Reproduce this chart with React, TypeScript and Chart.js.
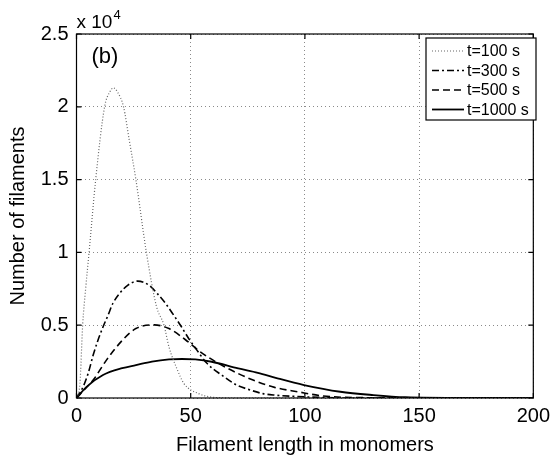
import React, { useEffect, useRef } from "react";
import { Chart, registerables } from "chart.js";

Chart.register(...registerables);

const FONT = "'Liberation Sans', Arial, Helvetica, sans-serif";

const xTicks = [0, 50, 100, 150, 200];
const yTicks = [0, 0.5, 1, 1.5, 2, 2.5];
const seriesLabels = ["t=100 s", "t=300 s", "t=500 s", "t=1000 s"];

const t100X = [0, 1.5, 2.7, 4, 5.5, 8.4, 12.3, 14.5, 16.2, 18, 20.6, 23, 26, 30.6, 35, 38.3, 40.5, 44, 47, 53.5, 60, 70, 200];
const t100Y = [0, 0.1, 0.5, 0.75, 1.0, 1.5, 2.0, 2.1, 2.13, 2.1, 2.0, 1.78, 1.5, 1.0, 0.63, 0.5, 0.35, 0.2, 0.1, 0.03, 0.005, 0, 0];

const t300X = [0, 2.9, 5.1, 7.3, 9.4, 11.6, 13.8, 15.9, 18.8, 22.4, 26.8, 31.8, 35.4, 39, 42.6, 45.5, 49.1, 52.7, 57, 63.5, 70, 75.1, 81.6, 86.7, 100, 120, 200];
const t300Y = [0, 0.077, 0.169, 0.295, 0.397, 0.488, 0.568, 0.649, 0.717, 0.774, 0.803, 0.774, 0.717, 0.649, 0.568, 0.5, 0.409, 0.329, 0.24, 0.158, 0.09, 0.06, 0.03, 0.02, 0.008, 0, 0];

const t500X = [0, 3, 7.3, 13.1, 20.3, 26, 34, 40.5, 47.7, 54.2, 63.5, 77.3, 86.7, 96.8, 108, 130, 200];
const t500Y = [0, 0.05, 0.123, 0.26, 0.4, 0.477, 0.502, 0.477, 0.4, 0.317, 0.226, 0.123, 0.073, 0.043, 0.014, 0.002, 0];

const t1000X = [0, 4.4, 11.6, 20, 26, 33, 40.5, 46.2, 52, 59.2, 70.8, 79.4, 88, 99.6, 115.5, 130, 144, 170, 200];
const t1000Y = [0, 0.077, 0.158, 0.205, 0.226, 0.25, 0.265, 0.268, 0.265, 0.249, 0.203, 0.173, 0.135, 0.089, 0.043, 0.02, 0.005, 0, 0];

const SCALE = 10000;

const toPts = (xs: number[], ys: number[]) => xs.map((x, i) => ({ x, y: ys[i] * SCALE }));

const styles = [
  { color: "#666666", width: 1.2, dash: [1, 2] },
  { color: "#000000", width: 1.6, dash: [7, 3, 2, 3] },
  { color: "#000000", width: 1.6, dash: [7, 4] },
  { color: "#000000", width: 1.8, dash: [] as number[] },
];

const decorPlugin = {
  id: "decor",
  afterDatasetsDraw(chart: any) {
    const { ctx, chartArea: a, scales } = chart;
    const xs = scales.x;
    const ys = scales.y;
    ctx.save();
    // frame
    ctx.strokeStyle = "#000";
    ctx.lineWidth = 1.2;
    ctx.setLineDash([]);
    ctx.strokeRect(a.left, a.top, a.right - a.left, a.bottom - a.top);
    // inward ticks
    const tl = 5;
    ctx.beginPath();
    xTicks.forEach((v) => {
      const px = xs.getPixelForValue(v);
      ctx.moveTo(px, a.bottom);
      ctx.lineTo(px, a.bottom - tl);
      ctx.moveTo(px, a.top);
      ctx.lineTo(px, a.top + tl);
    });
    yTicks.forEach((v) => {
      const py = ys.getPixelForValue(v * SCALE);
      ctx.moveTo(a.left, py);
      ctx.lineTo(a.left + tl, py);
      ctx.moveTo(a.right, py);
      ctx.lineTo(a.right - tl, py);
    });
    ctx.stroke();
    // exponent label
    ctx.fillStyle = "#000";
    ctx.textBaseline = "alphabetic";
    ctx.textAlign = "left";
    ctx.font = `19px ${FONT}`;
    ctx.fillText("x 10", a.left, a.top - 6);
    const w = ctx.measureText("x 10").width;
    ctx.font = `13px ${FONT}`;
    ctx.fillText("4", a.left + w + 1, a.top - 15);
    // (b)
    ctx.font = `22px ${FONT}`;
    ctx.textBaseline = "middle";
    ctx.fillText("(b)", a.left + 15, a.top + 23);
    // legend
    const lx = 426, ly = 38, lw = 110, lh = 82;
    ctx.fillStyle = "#fff";
    ctx.fillRect(lx, ly, lw, lh);
    ctx.strokeStyle = "#000";
    ctx.lineWidth = 1.2;
    ctx.strokeRect(lx, ly, lw, lh);
    ctx.font = `16px ${FONT}`;
    ctx.textBaseline = "middle";
    seriesLabels.forEach((lab, i) => {
      const cy = ly + 13 + i * 19.5;
      const s = styles[i];
      ctx.beginPath();
      ctx.strokeStyle = s.color;
      ctx.lineWidth = s.width;
      ctx.setLineDash(s.dash);
      ctx.moveTo(lx + 6, cy);
      ctx.lineTo(lx + 38, cy);
      ctx.stroke();
      ctx.setLineDash([]);
      ctx.fillStyle = "#000";
      ctx.fillText(lab, lx + 41, cy + 1);
    });
    ctx.restore();
  },
};

export default function App() {
  const ref = useRef<HTMLCanvasElement>(null);
  useEffect(() => {
    if (!ref.current) return;
    const all = [toPts(t100X, t100Y), toPts(t300X, t300Y), toPts(t500X, t500Y), toPts(t1000X, t1000Y)];
    const chart = new Chart(ref.current, {
      type: "line",
      data: {
        datasets: all.map((d, i) => ({
          label: seriesLabels[i],
          data: d,
          borderColor: styles[i].color,
          borderWidth: styles[i].width,
          borderDash: styles[i].dash,
          pointRadius: 0,
          fill: false,
          cubicInterpolationMode: "monotone" as const,
        })),
      },
      options: {
        animation: false,
        responsive: false,
        layout: { padding: { top: 34, right: 17, left: 0, bottom: 0 } },
        plugins: { legend: { display: false }, tooltip: { enabled: false } },
        scales: {
          x: {
            type: "linear",
            min: 0,
            max: 200,
            afterFit: (s: any) => { s.height = 65; },
            ticks: { stepSize: 50, color: "#000", font: { family: FONT, size: 20 }, padding: 6, maxRotation: 0 },
            grid: { color: "#8a8a8a", lineWidth: 1, drawTicks: false },
            border: { display: false, dash: [1, 3] },
            title: { display: true, text: "Filament length in monomers", color: "#000", font: { family: FONT, size: 20 }, padding: { top: 4, bottom: 6 } },
          },
          y: {
            type: "linear",
            min: 0,
            max: 25000,
            afterFit: (s: any) => { s.width = 76.5; },
            ticks: {
              stepSize: 5000,
              color: "#000",
              font: { family: FONT, size: 20 },
              padding: 8,
              callback: (v: any) => String(Number(v) / SCALE),
            },
            grid: { color: "#8a8a8a", lineWidth: 1, drawTicks: false },
            border: { display: false, dash: [1, 3] },
            title: { display: true, text: "Number of filaments", color: "#000", font: { family: FONT, size: 20 }, padding: { top: 6, bottom: 4 } },
          },
        },
      },
      plugins: [decorPlugin],
    });
    return () => chart.destroy();
  }, []);
  return (
    <div style={{ position: "absolute", left: 0, top: 0, width: 556, height: 463, background: "#fff" }}>
      <canvas ref={ref} width={556} height={463} style={{ display: "block" }} />
    </div>
  );
}
